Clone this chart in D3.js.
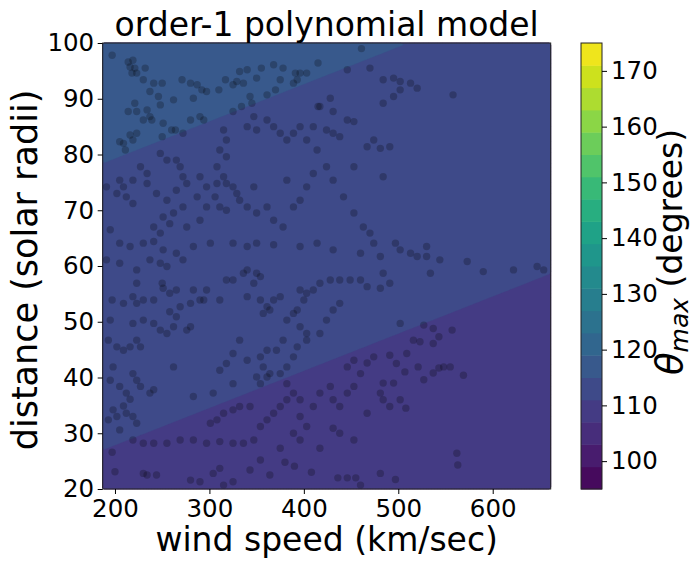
<!DOCTYPE html>
<html>
<head>
<meta charset="utf-8">
<script src="https://cdn.jsdelivr.net/npm/d3@7"></script>
<style>
  body { margin: 0; background: #fff; }
  text { font-family: "DejaVu Sans", sans-serif; fill: #000; }
</style>
</head>
<body>
<div id="chart"></div>
<script>
// axis extents (data units)
var windRange = [187, 661.4];
var distRange = [20, 100];

// linear model theta = a + b*wind + c*distance
var modelCoef = [109.87, -0.00519, 0.0778];

// filled contour levels (degrees)
var levels = [95, 99, 103, 107, 111, 115, 119, 123, 127, 131, 135, 139, 143, 147, 151, 155, 159, 163, 167, 171, 175];

var xTicks = [200, 300, 400, 500, 600];
var yTicks = [20, 30, 40, 50, 60, 70, 80, 90, 100];
var cbTicks = [100, 110, 120, 130, 140, 150, 160, 170];

// observations: [wind speed km/s, distance solar radii]
var obs = [
  [197,97.8],[214,96.6],[219,96.9],[216,95.7],[221,95.5],[218,94.6],[223,94.6],[230,93.4],[232,95.5],[241,92.8],
  [250,92.8],[237,91.3],[246,90.4],[248,88.9],[221,89.2],[223,87.7],[214,87.7],[234,88.0],[237,86.8],[230,86.2],
  [239,86.2],[205,82.3],[211,80.8],[209,82.0],[216,83.5],[223,83.8],[219,82.6],[250,83.2],[260,84.4],[264,84.4],
  [251,85.6],[272,83.8],[271,93.4],[280,92.8],[287,92.5],[292,91.6],[283,90.1],[297,91.3],[262,89.8],[280,86.2],
  [290,86.8],[294,86.2],[310,91.6],[317,93.4],[325,92.5],[329,93.1],[336,92.8],[332,94.9],[340,95.2],[350,93.7],
  [355,95.5],[368,96.1],[378,95.5],[391,94.6],[396,94.6],[403,94.6],[415,96.4],[393,93.4],[389,92.8],[375,93.4],
  [370,91.6],[361,90.7],[343,90.4],[345,89.2],[334,88.6],[428,90.1],[417,88.6],[431,87.7],[446,86.2],[453,85.9],
  [446,95.2],[461,99.0],[470,95.5],[315,84.4],[318,82.6],[325,87.7],[340,85.0],[347,86.8],[350,84.4],[361,86.2],
  [368,85.0],[375,83.8],[382,82.6],[389,83.8],[396,85.0],[403,82.6],[410,85.0],[415,88.6],[424,84.4],[431,83.8],
  [438,83.2],[311,80.8],[318,79.6],[308,77.8],[315,76.0],[318,74.8],[325,74.2],[308,74.8],[306,72.4],[311,70.6],
  [318,70.0],[329,73.0],[332,71.8],[340,70.6],[347,74.2],[350,69.5],[361,70.6],[368,68.2],[378,67.0],[389,70.6],
  [396,71.8],[382,75.4],[403,74.2],[410,76.6],[414,80.8],[424,77.8],[431,75.4],[442,72.4],[453,69.5],[463,67.0],
  [470,65.9],[453,77.8],[467,81.4],[474,82.6],[248,80.2],[255,79.0],[265,79.0],[269,77.8],[272,76.0],[227,77.8],
  [234,76.6],[219,75.4],[205,75.4],[209,74.2],[202,73.0],[212,72.4],[219,71.2],[234,74.8],[244,73.0],[255,71.8],
  [265,73.6],[276,74.8],[290,76.0],[297,74.2],[287,72.4],[272,70.6],[262,69.5],[251,68.8],[241,67.0],[248,65.9],
  [258,67.6],[276,67.0],[290,68.2],[297,70.6],[191,74.2],
  [205,64.1],[216,63.5],[230,64.1],[241,64.4],[251,62.9],[265,62.3],[283,63.5],[301,64.1],[325,64.1],[340,63.5],
  [350,64.1],[368,63.8],[396,63.5],[414,64.1],[431,62.9],[460,62.3],[474,64.1],[205,60.5],[223,59.3],[237,61.1],
  [255,59.9],[272,61.1],[248,60.5],[250,56.9],[223,56.9],[251,56.0],[219,54.5],[223,53.3],[230,53.9],[241,53.9],
  [209,53.3],[258,55.1],[265,55.7],[283,55.7],[290,53.9],[280,53.3],[269,52.7],[258,51.8],[265,50.9],[276,48.5],
  [280,49.1],[262,49.1],[255,47.9],[248,48.5],[241,49.7],[230,50.3],[219,49.7],[223,46.7],[216,45.5],[227,45.5],
  [209,44.9],[202,45.5],[297,55.7],[294,53.9],[311,53.9],[318,57.5],[325,57.5],[336,58.7],[340,59.3],[350,58.7],
  [354,58.1],[347,56.9],[340,54.5],[354,53.9],[361,52.7],[364,52.1],[357,51.5],[368,53.9],[375,54.5],[382,50.3],
  [389,51.5],[393,52.1],[400,53.9],[403,55.1],[396,55.7],[410,55.7],[417,56.9],[428,57.5],[438,57.5],[449,57.5],
  [460,57.5],[467,56.3],[438,53.3],[431,52.1],[424,50.3],[417,47.9],[403,47.9],[396,49.1],[403,46.7],[393,45.5],
  [378,46.7],[389,43.7],[382,41.9],[371,44.9],[361,44.9],[354,43.7],[357,41.9],[350,40.1],[354,38.9],[361,40.1],
  [364,40.7],[375,40.7],[382,38.9],[340,43.1],[325,44.3],[332,46.7],[318,42.5],[311,41.3],[325,38.9],
  [198,41.9],[195,39.5],[205,38.4],[212,37.2],[219,40.7],[223,39.5],[227,38.4],[216,36.1],[209,34.9],[198,34.2],
  [202,33.0],[212,33.6],[219,33.0],[223,31.8],[205,30.6],[219,28.8],[230,28.2],[241,28.2],[237,37.2],[241,37.8],
  [262,41.9],[283,36.6],[304,37.2],[255,28.2],[269,28.8],[283,28.8],[297,28.2],[311,28.5],[325,28.2],[336,28.2],
  [347,28.8],[301,31.8],[308,32.4],[315,33.6],[325,34.2],[332,34.8],[343,34.8],[354,31.2],[361,32.4],[368,33.6],
  [375,34.8],[382,36.0],[389,37.2],[396,36.0],[396,33.0],[403,31.2],[410,34.8],[417,37.2],[428,38.4],[431,36.0],
  [438,34.8],[446,37.2],[453,38.4],[460,40.7],[467,42.6],[474,43.7],[453,43.1],[446,41.9],[431,30.9],[438,30.0],
  [453,28.8],[467,33.6],[417,27.3],[396,28.8],[389,30.0],[375,27.3],
  [484,93.4],[495,93.7],[502,93.1],[513,92.8],[520,91.9],[502,91.6],[495,90.4],[484,89.2],[558,90.7],[481,81.1],
  [491,81.4],[484,76.0],[497,64.1],[502,62.9],[513,62.3],[520,61.7],[530,63.5],[530,61.7],[534,58.7],[544,61.1],
  [573,60.8],[590,59.0],[622,59.3],[647,59.9],[654,59.3],[481,61.7],[484,58.7],[491,56.9],[481,56.0],[502,49.7],
  [527,49.4],[537,48.8],[543,47.3],[516,46.7],[523,46.4],[537,46.1],[557,48.5],[491,44.0],[498,42.5],[509,44.3],
  [507,41.0],[521,41.9],[527,39.6],[537,40.8],[543,41.7],[548,41.9],[555,41.9],[569,40.4],[484,39.0],[495,39.0],
  [481,37.2],[484,36.0],[491,34.8],[502,36.0],[508,34.5],[562,26.4],
  [200,23.1],[230,22.8],[234,22.5],[244,22.5],[280,21.6],[290,21.3],[304,22.8],[311,23.7],[315,20.7],[325,21.3],
  [481,22.8],[497,21.7],[380,24.8],[390,24.1],[408,23.0],[436,22.0],[446,22.0],[455,22.0],[460,20.7],[563,24.3],
  [354,25.2],[364,22.5],[343,23.4],[195,50.3],[193,46.7],[197,53.9],[191,61.1],[195,66.5],[193,32.4],[197,26.6]
];

var width = 694, height = 561;
var plot = {left: 102.7, right: 550.7, top: 43, bottom: 489};
var cbar = {left: 581, right: 602};

var svg = d3.select("#chart")
  .append("svg")
  .attr("width", width)
  .attr("height", height);

var x = d3.scaleLinear().domain(windRange).range([plot.left, plot.right]);
var y = d3.scaleLinear().domain(distRange).range([plot.bottom, plot.top]);

function bandColor(lo) {
  // matplotlib colours each band by its midpoint
  var mid = lo + (levels[1] - levels[0]) / 2;
  return d3.interpolateViridis((mid - levels[0]) / (levels[levels.length - 1] - levels[0]));
}

function model(w, d) {
  return modelCoef[0] + modelCoef[1] * w + modelCoef[2] * d;
}

// grid for contouring
var nx = 160, ny = 120;
var grid = new Array(nx * ny);
for (var j = 0; j < ny; j++) {
  var dv = distRange[0] + (j + 0.5) * (distRange[1] - distRange[0]) / ny;
  for (var i = 0; i < nx; i++) {
    var wv = windRange[0] + (i + 0.5) * (windRange[1] - windRange[0]) / nx;
    grid[i + j * nx] = model(wv, dv);
  }
}

var contours = d3.contours()
  .size([nx, ny])
  .thresholds(levels.slice(0, -1))(grid);

var gridProj = d3.geoTransform({
  point: function(px, py) {
    this.stream.point(
      x(windRange[0] + px * (windRange[1] - windRange[0]) / nx),
      y(distRange[0] + py * (distRange[1] - distRange[0]) / ny));
  }
});

svg.append("g")
  .selectAll("path")
  .data(contours)
  .enter()
  .append("path")
  .attr("d", d3.geoPath(gridProj))
  .attr("fill", function(d) { return bandColor(d.value); })
  .attr("stroke", function(d) { return bandColor(d.value); })
  .attr("stroke-width", 0.3);

// scatter of observations
svg.append("g")
  .selectAll("circle")
  .data(obs)
  .enter()
  .append("circle")
  .attr("cx", function(d) { return x(d[0]); })
  .attr("cy", function(d) { return y(d[1]); })
  .attr("r", 3.7)
  .attr("fill", "#000")
  .attr("fill-opacity", 0.23);

// frame
svg.append("rect")
  .attr("x", plot.left).attr("y", plot.top)
  .attr("width", plot.right - plot.left)
  .attr("height", plot.bottom - plot.top)
  .attr("fill", "none")
  .attr("stroke", "#222")
  .attr("stroke-width", 1);

var xAxis = svg.append("g")
  .attr("transform", "translate(0," + plot.bottom + ")")
  .call(d3.axisBottom(x).tickValues(xTicks).tickSize(5).tickSizeOuter(0).tickPadding(5.5));
var yAxis = svg.append("g")
  .attr("transform", "translate(" + plot.left + ",0)")
  .call(d3.axisLeft(y).tickValues(yTicks).tickSize(5).tickSizeOuter(0).tickPadding(3.5));

[xAxis, yAxis].forEach(function(g) {
  g.select(".domain").remove();
  g.selectAll("text").attr("font-size", 24.5).attr("font-family", "DejaVu Sans");
  g.selectAll("line").attr("stroke", "#000");
});

// titles
svg.append("text")
  .attr("x", (plot.left + plot.right) / 2)
  .attr("y", 36)
  .attr("text-anchor", "middle")
  .attr("font-size", 33)
  .text("order-1 polynomial model");

svg.append("text")
  .attr("x", (plot.left + plot.right) / 2)
  .attr("y", 551)
  .attr("text-anchor", "middle")
  .attr("font-size", 33)
  .text("wind speed (km/sec)");

svg.append("text")
  .attr("transform", "translate(37,270) rotate(-90)")
  .attr("text-anchor", "middle")
  .attr("font-size", 35)
  .text("distance (solar radii)");

// colorbar
var cy = d3.scaleLinear()
  .domain([levels[0], levels[levels.length - 1]])
  .range([plot.bottom, plot.top]);

svg.append("g")
  .selectAll("rect")
  .data(levels.slice(0, -1))
  .enter()
  .append("rect")
  .attr("x", cbar.left)
  .attr("width", cbar.right - cbar.left)
  .attr("y", function(d, i) { return cy(levels[i + 1]); })
  .attr("height", function(d, i) { return cy(levels[i]) - cy(levels[i + 1]) + 0.5; })
  .attr("fill", function(d) { return bandColor(d); });

svg.append("rect")
  .attr("x", cbar.left).attr("y", plot.top)
  .attr("width", cbar.right - cbar.left)
  .attr("height", plot.bottom - plot.top)
  .attr("fill", "none")
  .attr("stroke", "#222")
  .attr("stroke-width", 1);

var cAxis = svg.append("g")
  .attr("transform", "translate(" + cbar.right + ",0)")
  .call(d3.axisRight(cy).tickValues(cbTicks).tickSize(5).tickSizeOuter(0).tickPadding(4));
cAxis.select(".domain").remove();
cAxis.selectAll("text").attr("font-size", 24.5).attr("font-family", "DejaVu Sans");
cAxis.selectAll("line").attr("stroke", "#000");

var cLabel = svg.append("text")
  .attr("transform", "translate(682,252) rotate(-90)")
  .attr("text-anchor", "middle")
  .attr("font-size", 33);
cLabel.append("tspan").attr("font-style", "italic").attr("font-size", 37).text("θ");
cLabel.append("tspan").attr("font-style", "italic").attr("font-size", 25).attr("dy", 6).text("max");
cLabel.append("tspan").attr("dy", -6).text(" (degrees)");
</script>
</body>
</html>
